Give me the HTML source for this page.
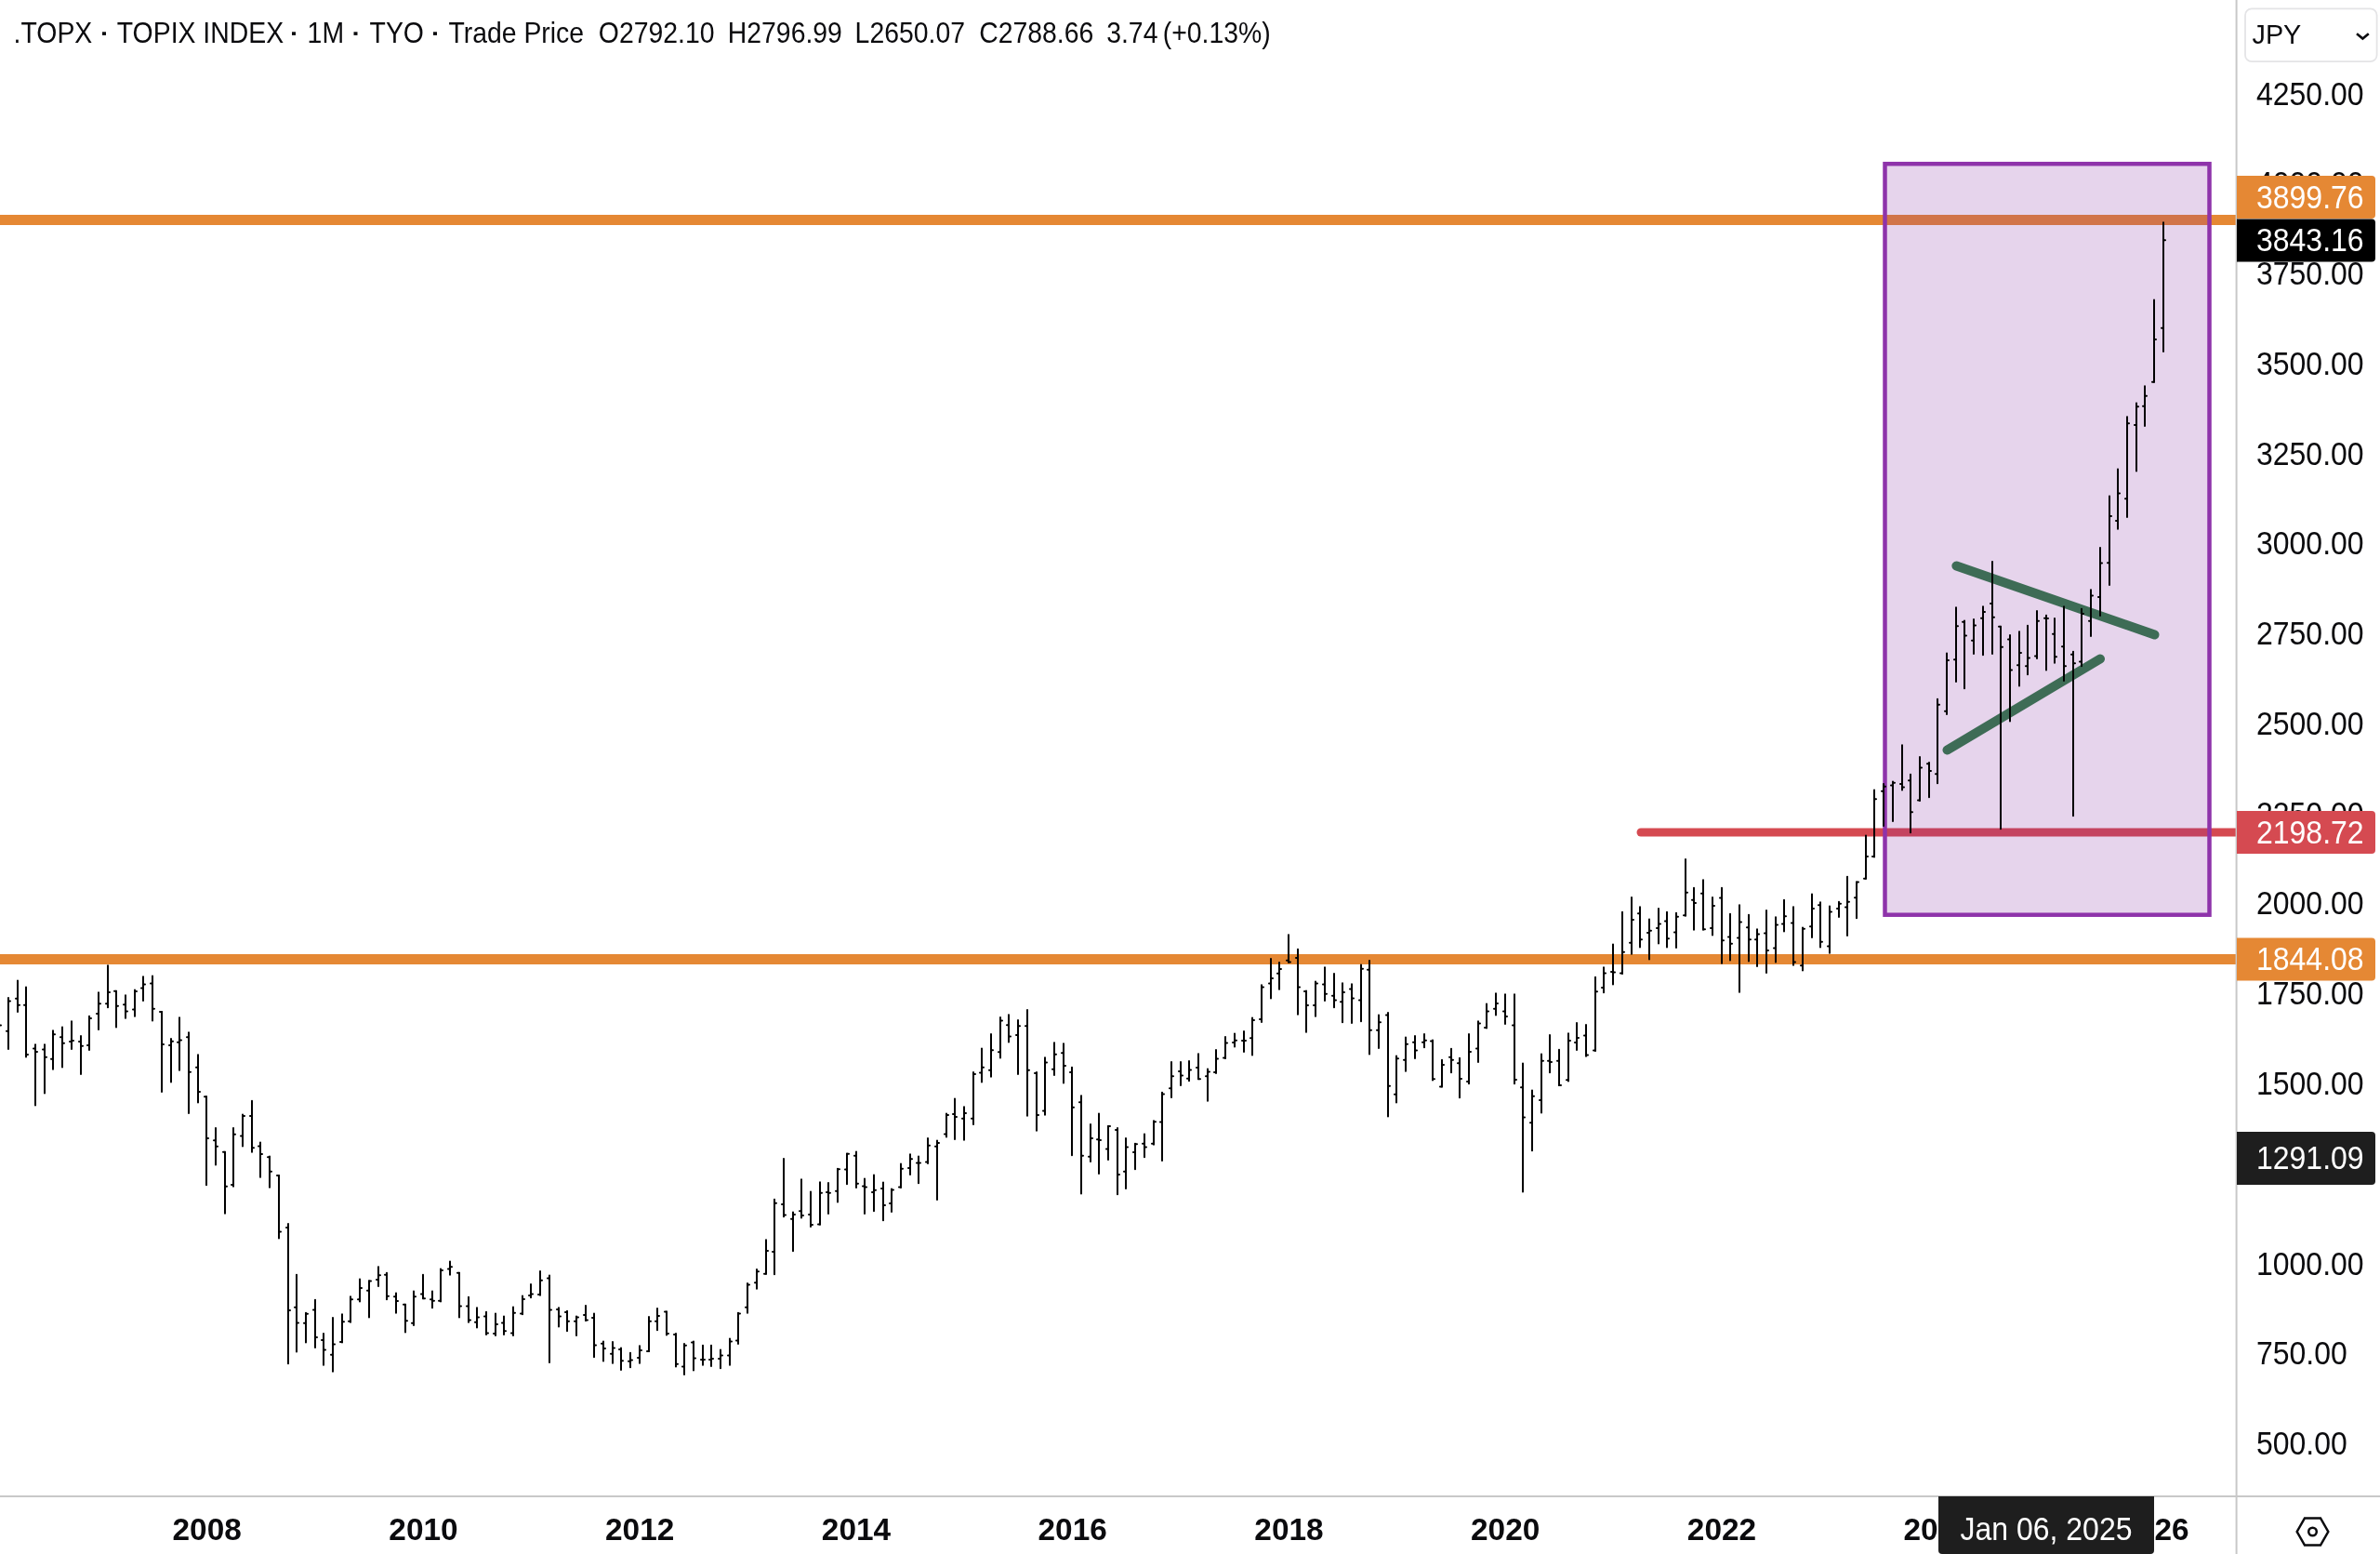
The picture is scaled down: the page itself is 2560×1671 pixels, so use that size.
<!DOCTYPE html>
<html><head><meta charset="utf-8"><style>
html,body{margin:0;padding:0;background:#fff;width:2560px;height:1671px;overflow:hidden}
svg{display:block;will-change:transform}
text{font-family:"Liberation Sans",sans-serif}
</style></head><body>
<svg width="2560" height="1671" viewBox="0 0 2560 1671">
<rect width="2560" height="1671" fill="#fff"/>
<g>
<rect x="0" y="231" width="2405" height="11" fill="#E58834"/>
<rect x="0" y="1026" width="2405" height="11" fill="#E58834"/>
<path d="M1765 895H2405" stroke="#D54A51" stroke-width="9" stroke-linecap="round"/>
<rect x="2405" y="890.5" width="2" height="9" fill="#D54A51"/>
<rect x="2027.5" y="176.2" width="349" height="807.5" fill="rgba(128,40,160,0.2)" stroke="#8E33AA" stroke-width="4.5"/>
<path d="M2104.4 608.5L2317.5 682.5M2094.5 806.5L2259 708.5" stroke="#3E6C56" stroke-width="10" stroke-linecap="round"/>
<path d="M9 1073.1V1128.1M19 1054.4V1088.0M28 1061.5V1136.4M38 1123.3V1188.5M48 1123.3V1175.4M57 1108.2V1149.7M67 1104.6V1147.4M77 1098.2V1128.1M87 1114.0V1155.1M96 1092.8V1129.1M106 1067.3V1106.9M116 1038.3V1083.3M125 1065.8V1104.6M135 1070.2V1094.7M145 1064.4V1092.8M154 1050.3V1076.0M164 1049.5V1097.6M174 1088.0V1173.9M184 1116.9V1163.4M193 1094.3V1150.7M203 1110.2V1197.0M213 1134.3V1185.6M222 1179.3V1274.2M232 1213.1V1252.6M242 1238.7V1304.7M251 1213.1V1275.8M261 1198.6V1232.4M271 1183.7V1238.7M280 1228.5V1265.8M290 1243.6V1276.8M300 1264.0V1331.5M310 1316.0V1466.3M319 1370.8V1453.6M329 1411.8V1443.6M339 1397.8V1448.9M348 1434.1V1467.8M358 1417.1V1474.8M368 1413.3V1443.6M377 1394.2V1421.8M387 1375.5V1399.5M397 1377.2V1416.5M407 1362.3V1382.9M416 1368.7V1397.3M426 1390.6V1411.8M436 1402.7V1432.4M445 1388.4V1424.9M455 1370.8V1396.3M465 1388.4V1406.3M474 1364.4V1399.5M484 1356.6V1370.8M494 1368.7V1416.5M504 1394.8V1421.8M513 1406.3V1427.5M523 1410.7V1435.1M533 1412.6V1436.0M542 1415.4V1434.9M552 1405.4V1436.0M562 1393.5V1413.3M571 1381.0V1395.2M581 1367.0V1392.7M591 1371.4V1464.9M601 1406.3V1426.6M610 1409.7V1431.3M620 1415.4V1436.0M630 1404.1V1420.1M639 1412.6V1459.3M649 1442.6V1463.6M659 1443.0V1465.7M668 1449.4V1473.1M678 1454.7V1470.2M688 1447.2V1465.7M698 1416.0V1453.0M707 1406.9V1430.3M717 1410.5V1435.6M727 1434.1V1469.5M736 1445.1V1478.0M746 1442.6V1473.4M756 1446.8V1467.8M765 1446.8V1469.1M775 1451.5V1471.2M785 1439.4V1467.8M794 1411.8V1445.1M804 1379.9V1411.8M814 1365.1V1385.7M824 1333.2V1369.7M833 1289.7V1370.2M843 1246.0V1308.2M853 1303.5V1345.3M862 1268.3V1309.4M872 1281.4V1319.0M882 1271.2V1316.7M891 1272.1V1304.9M901 1256.7V1292.6M911 1240.5V1273.3M921 1238.5V1276.9M930 1267.5V1304.9M940 1263.6V1302.2M950 1271.4V1312.3M959 1278.5V1303.0M969 1251.5V1276.9M979 1241.2V1263.1M988 1243.4V1272.3M998 1223.9V1250.9M1008 1226.4V1290.1M1018 1197.4V1222.5M1027 1181.6V1225.0M1037 1190.3V1225.8M1047 1153.0V1209.0M1056 1127.5V1163.6M1066 1111.9V1157.8M1076 1094.1V1137.6M1085 1091.2V1120.6M1095 1097.0V1154.9M1105 1086.0V1199.7M1115 1153.0V1215.8M1124 1137.2V1198.8M1134 1121.2V1155.9M1144 1122.2V1164.5M1153 1147.7V1242.3M1163 1178.2V1283.4M1173 1208.9V1249.0M1182 1197.5V1262.0M1192 1211.0V1247.1M1202 1212.9V1284.2M1211 1223.9V1278.0M1221 1229.7V1257.3M1231 1219.5V1244.2M1241 1205.2V1230.7M1250 1174.7V1248.1M1260 1141.9V1180.1M1270 1141.9V1167.0M1279 1140.9V1162.2M1289 1133.2V1160.2M1299 1149.6V1183.8M1308 1129.0V1153.9M1318 1114.9V1138.0M1328 1111.4V1125.5M1338 1109.1V1130.9M1347 1094.6V1134.6M1357 1059.3V1099.0M1367 1030.9V1073.4M1376 1035.1V1063.7M1386 1005.2V1034.7M1396 1020.8V1090.7M1405 1065.6V1109.7M1415 1055.4V1092.7M1425 1040.3V1076.0M1435 1047.0V1083.3M1444 1057.3V1099.2M1454 1058.2V1100.1M1464 1037.4V1098.2M1473 1033.1V1133.5M1483 1091.4V1127.1M1493 1088.9V1200.5M1502 1135.4V1185.4M1512 1115.6V1151.7M1522 1114.0V1138.1M1532 1112.1V1126.2M1541 1118.5V1161.5M1551 1139.7V1168.6M1561 1127.7V1153.2M1570 1137.8V1180.2M1580 1112.1V1165.2M1590 1098.2V1142.0M1599 1079.5V1105.5M1609 1068.3V1091.4M1619 1069.2V1101.1M1629 1069.2V1165.2M1638 1143.6V1281.6M1648 1172.5V1237.2M1658 1133.5V1196.6M1667 1113.1V1153.2M1677 1128.7V1167.1M1687 1111.3V1162.5M1696 1100.1V1129.1M1706 1102.0V1135.8M1716 1050.8V1130.0M1725 1040.2V1067.3M1735 1015.5V1058.6M1745 980.8V1047.0M1755 964.9V1025.8M1764 975.2V1018.4M1774 988.5V1031.5M1784 977.1V1014.6M1793 980.8V1018.4M1803 981.7V1019.0M1813 924.0V984.8M1822 954.7V999.7M1832 946.2V999.7M1842 964.9V1005.5M1852 954.7V1035.8M1861 982.7V1032.5M1871 973.2V1066.7M1881 983.7V1033.5M1890 999.3V1038.9M1900 979.0V1046.0M1910 986.2V1034.4M1919 967.8V1001.6M1929 975.2V1037.7M1939 997.4V1043.5M1949 961.5V1008.0M1958 970.3V1018.4M1968 974.6V1024.8M1978 969.7V985.9M1987 942.7V1006.0M1997 948.6V987.2M2007 898.4V944.7M2016 849.5V921.6M2026 843.1V888.1M2036 840.5V883.0M2046 801.2V849.5M2055 832.8V895.3M2065 814.0V861.1M2075 820.0V857.3M2084 751.8V842.3M2094 702.4V768.0M2104 653.3V733.0M2113 667.4V740.2M2123 666.1V702.9M2133 652.2V704.2M2143 603.9V702.9M2152 673.8V891.2M2162 683.1V775.5M2172 679.2V737.6M2181 672.8V725.3M2191 657.1V708.1M2201 661.7V720.4M2210 665.1V712.7M2220 652.2V732.0M2230 700.8V877.3M2239 654.8V716.3M2249 634.2V684.1M2259 589.0V661.9M2269 533.4V628.9M2278 504.6V568.8M2288 448.3V556.0M2298 433.4V506.6M2307 415.3V458.0M2317 322.6V410.8M2327 239.2V378.1" stroke="#000" stroke-width="2" stroke-linecap="round" fill="none"/>
<path d="M7 1108.8H9M9 1076.4H11M17 1073.7H19M19 1080.8H21M26 1080.8H28M28 1133.9H30M36 1127.5H38M38 1131.0H40M46 1128.5H48M48 1136.8H50M55 1138.7H57M57 1112.3H59M65 1115.2H67M67 1121.7H69M75 1120.0H77M77 1119.0H79M85 1120.0H87M87 1124.8H89M94 1123.9H96M96 1094.9H98M104 1090.1H106M106 1079.3H108M114 1079.3H116M116 1066.9H118M123 1065.8H125M125 1081.8H127M133 1080.2H135M135 1087.6H137M143 1085.6H145M145 1065.9H147M152 1062.5H154M154 1058.6H156M162 1057.6H164M164 1084.7H166M172 1088.0H174M174 1122.9H176M182 1123.9H184M184 1119.8H186M191 1120.8H193M193 1118.5H195M201 1115.2H203M203 1152.8H205M211 1147.8H213M213 1174.1H215M220 1179.3H222M222 1224.1H224M230 1226.2H232M232 1232.7H234M240 1238.7H242M242 1275.8H244M249 1273.9H251M251 1219.8H253M259 1221.4H261M261 1199.9H263M269 1199.9H271M271 1234.3H273M278 1232.4H280M280 1241.0H282M288 1244.3H290M290 1259.8H292M298 1264.0H300M300 1324.5H302M308 1319.9H310M310 1409.0H312M317 1405.8H319M319 1422.4H321M327 1422.8H329M329 1412.8H331M337 1408.4H339M339 1438.1H341M346 1440.9H348M348 1451.5H350M356 1456.8H358M358 1445.5H360M366 1443.0H368M368 1421.3H370M375 1420.7H377M377 1397.3H379M385 1397.3H387M387 1385.0H389M395 1387.8H397M397 1377.6H399M405 1376.1H407M407 1371.2H409M414 1370.8H416M416 1393.7H418M424 1394.2H426M426 1399.0H428M434 1402.7H436M436 1420.3H438M443 1422.8H445M445 1394.2H447M453 1391.4H455M455 1396.3H457M463 1397.3H465M465 1398.8H467M472 1398.8H474M474 1365.9H476M482 1364.4H484M484 1362.3H486M492 1368.7H494M494 1404.4H496M502 1404.4H504M504 1419.6H506M511 1421.8H513M513 1416.5H515M521 1415.4H523M523 1433.4H525M531 1433.9H533M533 1423.9H535M540 1422.4H542M542 1431.3H544M550 1433.4H552M552 1411.8H554M560 1412.6H562M562 1396.9H564M569 1393.1H571M571 1391.4H573M579 1392.0H581M581 1376.8H583M589 1374.6H591M591 1408.4H593M599 1408.0H601M601 1415.4H603M608 1411.1H610M610 1420.7H612M618 1420.7H620M620 1416.5H622M628 1413.9H630M630 1419.6H632M637 1416.9H639M639 1446.6H641M647 1444.7H649M649 1450.0H651M657 1455.7H659M659 1449.4H661M666 1451.1H668M668 1463.2H670M676 1463.8H678M678 1462.5H680M686 1460.0H688M688 1452.1H690M696 1453.0H698M698 1420.7H700M705 1420.7H707M707 1415.0H709M715 1410.5H717M717 1433.9H719M725 1435.1H727M727 1466.8H729M734 1469.5H736M736 1446.8H738M744 1443.6H746M746 1460.6H748M754 1462.1H756M756 1462.1H758M763 1462.1H765M765 1461.0H767M773 1461.0H775M775 1457.4H777M783 1457.4H785M785 1442.4H787M792 1441.5H794M794 1412.6H796M802 1405.8H804M804 1381.4H806M812 1379.3H814M814 1367.2H816M822 1369.7H824M824 1344.9H826M831 1346.0H833M833 1293.7H835M841 1295.0H843M843 1306.5H845M851 1310.7H853M853 1306.1H855M860 1302.2H862M862 1306.9H864M870 1305.9H872M872 1317.1H874M880 1316.5H882M882 1282.7H884M889 1282.0H891M891 1282.7H893M899 1280.8H901M901 1257.3H903M909 1257.6H911M911 1240.8H913M919 1242.8H921M921 1272.7H923M928 1275.6H930M930 1276.6H932M938 1282.0H940M940 1279.8H942M948 1277.9H950M950 1295.9H952M957 1293.9H959M959 1279.5H961M967 1276.6H969M969 1256.7H971M977 1255.9H979M979 1246.3H981M986 1250.5H988M988 1250.5H990M996 1249.5H998M998 1231.8H1000M1006 1232.7H1008M1008 1228.9H1010M1016 1219.6H1018M1018 1199.0H1020M1025 1198.0H1027M1027 1200.9H1029M1035 1202.8H1037M1037 1197.0H1039M1045 1202.8H1047M1047 1154.9H1049M1054 1153.6H1056M1056 1147.8H1058M1064 1150.7H1066M1066 1129.3H1068M1074 1131.2H1076M1076 1097.6H1078M1083 1102.2H1085M1085 1114.4H1087M1093 1112.9H1095M1095 1103.2H1097M1103 1103.2H1105M1105 1150.7H1107M1113 1154.0H1115M1115 1199.0H1117M1122 1194.5H1124M1124 1142.4H1126M1132 1149.7H1134M1134 1133.7H1136M1142 1132.2H1144M1144 1146.1H1146M1151 1152.9H1153M1153 1190.7H1155M1161 1185.3H1163M1163 1242.7H1165M1171 1243.8H1173M1173 1223.9H1175M1180 1225.3H1182M1182 1225.9H1184M1190 1235.5H1192M1192 1211.0H1194M1200 1214.9H1202M1202 1263.1H1204M1209 1259.7H1211M1211 1233.6H1213M1219 1239.0H1221M1221 1230.3H1223M1229 1229.7H1231M1231 1233.6H1233M1239 1229.7H1241M1241 1206.2H1243M1248 1206.6H1250M1250 1176.6H1252M1258 1170.3H1260M1260 1157.3H1262M1268 1151.9H1270M1270 1156.4H1272M1277 1159.8H1279M1279 1150.6H1281M1287 1148.1H1289M1289 1160.2H1291M1297 1157.3H1299M1299 1152.5H1301M1306 1152.9H1308M1308 1138.6H1310M1316 1137.6H1318M1318 1121.6H1320M1326 1121.0H1328M1328 1118.7H1330M1336 1119.1H1338M1338 1119.1H1340M1345 1116.2H1347M1347 1096.9H1349M1355 1095.9H1357M1357 1061.4H1359M1365 1057.5H1367M1367 1052.1H1369M1374 1046.7H1376M1376 1041.9H1378M1384 1032.8H1386M1386 1034.4H1388M1394 1029.9H1396M1396 1061.4H1398M1403 1066.0H1405M1405 1081.1H1407M1413 1081.1H1415M1415 1057.5H1417M1423 1058.6H1425M1425 1068.8H1427M1433 1070.8H1435M1435 1075.4H1437M1442 1077.3H1444M1444 1066.9H1446M1452 1063.4H1454M1454 1073.5H1456M1462 1075.4H1464M1464 1041.8H1466M1471 1042.8H1473M1473 1107.8H1475M1481 1107.8H1483M1483 1099.2H1485M1491 1091.4H1493M1493 1167.7H1495M1500 1176.8H1502M1502 1138.3H1504M1510 1139.7H1512M1512 1122.7H1514M1520 1120.8H1522M1522 1129.5H1524M1530 1120.8H1532M1532 1118.8H1534M1539 1119.4H1541M1541 1160.3H1543M1549 1168.6H1551M1551 1145.1H1553M1559 1136.8H1561M1561 1139.7H1563M1568 1143.2H1570M1570 1160.0H1572M1578 1162.9H1580M1580 1131.0H1582M1588 1127.5H1590M1590 1100.5H1592M1597 1104.9H1599M1599 1087.6H1601M1607 1084.7H1609M1609 1078.9H1611M1617 1087.6H1619M1619 1093.0H1621M1627 1102.4H1629M1629 1160.9H1631M1636 1169.2H1638M1638 1201.5H1640M1646 1207.3H1648M1648 1178.7H1650M1656 1183.1H1658M1658 1140.7H1660M1665 1140.7H1667M1667 1142.0H1669M1675 1140.7H1677M1677 1167.1H1679M1685 1161.3H1687M1687 1119.0H1689M1694 1121.0H1696M1696 1116.1H1698M1704 1113.6H1706M1706 1134.4H1708M1714 1129.6H1716M1716 1066.3H1718M1723 1062.0H1725M1725 1046.4H1727M1733 1045.1H1735M1735 1045.6H1737M1743 1046.6H1745M1745 1023.8H1747M1753 1013.8H1755M1755 989.1H1757M1762 982.3H1764M1764 1010.3H1766M1772 1003.0H1774M1774 1000.7H1776M1782 998.1H1784M1784 993.5H1786M1791 990.6H1793M1793 1009.3H1795M1801 1002.6H1803M1803 985.8H1805M1811 984.2H1813M1813 959.7H1815M1820 967.8H1822M1822 971.1H1824M1830 960.7H1832M1832 999.3H1834M1840 998.1H1842M1842 974.0H1844M1850 965.5H1852M1852 1011.3H1854M1859 1007.4H1861M1861 1014.7H1863M1869 1008.4H1871M1871 991.6H1873M1879 997.2H1881M1881 1010.3H1883M1888 1010.3H1890M1890 1004.5H1892M1898 1003.6H1900M1900 1021.9H1902M1908 1019.4H1910M1910 994.5H1912M1917 993.5H1919M1919 985.2H1921M1927 992.5H1929M1929 1034.4H1931M1937 1038.3H1939M1939 998.7H1941M1947 996.2H1949M1949 976.9H1951M1956 973.2H1958M1958 1012.8H1960M1966 1017.6H1968M1968 980.4H1970M1976 976.9H1978M1978 971.8H1980M1985 975.6H1987M1987 969.7H1989M1995 965.3H1997M1997 948.6H1999M2005 944.7H2007M2007 921.1H2009M2014 921.1H2016M2016 859.3H2018M2024 850.8H2026M2026 845.7H2028M2034 844.4H2036M2036 841.8H2038M2044 843.1H2046M2046 846.5H2048M2053 839.3H2055M2055 873.2H2057M2063 860.6H2065M2065 825.6H2067M2073 821.3H2075M2075 829.0H2077M2082 832.3H2084M2084 757.7H2086M2092 764.7H2094M2094 709.9H2096M2102 709.3H2104M2104 673.3H2106M2111 668.7H2113M2113 683.6H2115M2121 688.8H2123M2123 672.5H2125M2131 664.8H2133M2133 657.9H2135M2141 648.9H2143M2143 663.8H2145M2150 673.8H2152M2152 695.7H2154M2160 687.5H2162M2162 720.4H2164M2170 715.3H2172M2172 702.1H2174M2179 716.3H2181M2181 707.5H2183M2189 705.5H2191M2191 667.7H2193M2199 664.8H2201M2201 665.1H2203M2208 681.8H2210M2210 706.3H2212M2218 695.2H2220M2220 716.3H2222M2228 703.7H2230M2230 713.2H2232M2237 711.4H2239M2239 659.9H2241M2247 667.7H2249M2249 640.6H2251M2257 642.1H2259M2259 605.6H2261M2267 605.3H2269M2269 554.9H2271M2276 560.1H2278M2278 530.6H2280M2286 536.2H2288M2288 455.2H2290M2296 457.0H2298M2298 437.2H2300M2305 436.8H2307M2307 425.7H2309M2315 410.8H2317M2317 364.9H2319M2325 352.8H2327M2327 258.3H2329M-1 1102.6H1" stroke="#000" stroke-width="2" stroke-linecap="round" fill="none"/>
</g>
<rect x="2405" y="0" width="155" height="1671" fill="#fff"/>
<rect x="0" y="1609" width="2560" height="62" fill="#fff"/>
<rect x="2404.6" y="0" width="2" height="1671" fill="#c8c8c8"/>
<rect x="0" y="1608" width="2560" height="2" fill="#c8c8c8"/>
<g font-size="28.4" fill="#0b0b0e"><text transform="translate(14.6 45.6) scale(1 1.09)">.TOPX</text><text transform="translate(125.8 45.6) scale(1 1.09)">TOPIX INDEX</text><text transform="translate(330.6 45.6) scale(1 1.09)">1M</text><text transform="translate(397.6 45.6) scale(1 1.09)">TYO</text><text transform="translate(482.4 45.6) scale(1 1.09)">Trade Price</text><text transform="translate(643.8 45.6) scale(1 1.09)">O2792.10</text><text transform="translate(782.8 45.6) scale(1 1.09)">H2796.99</text><text transform="translate(919.6 45.6) scale(1 1.09)">L2650.07</text><text transform="translate(1053.2 45.6) scale(1 1.09)">C2788.66</text><text transform="translate(1190.2 45.6) scale(1 1.09)">3.74</text><text transform="translate(1250.8 45.6) scale(1 1.09)">(+0.13%)</text><rect x="110.0" y="34.3" width="4" height="3.6"/><rect x="314.0" y="34.3" width="4" height="3.6"/><rect x="380.5" y="34.3" width="4" height="3.6"/><rect x="466.0" y="34.3" width="4" height="3.6"/></g>
<g font-size="32" fill="#0b0b0e"><text transform="translate(2427 100.8) scale(1 1.07)" y="11">4250.00</text><text transform="translate(2427 197.6) scale(1 1.07)" y="11">4000.00</text><text transform="translate(2427 294.3) scale(1 1.07)" y="11">3750.00</text><text transform="translate(2427 391.1) scale(1 1.07)" y="11">3500.00</text><text transform="translate(2427 487.9) scale(1 1.07)" y="11">3250.00</text><text transform="translate(2427 584.6) scale(1 1.07)" y="11">3000.00</text><text transform="translate(2427 681.4) scale(1 1.07)" y="11">2750.00</text><text transform="translate(2427 778.2) scale(1 1.07)" y="11">2500.00</text><text transform="translate(2427 874.9) scale(1 1.07)" y="11">2250.00</text><text transform="translate(2427 971.7) scale(1 1.07)" y="11">2000.00</text><text transform="translate(2427 1068.5) scale(1 1.07)" y="11">1750.00</text><text transform="translate(2427 1165.2) scale(1 1.07)" y="11">1500.00</text><text transform="translate(2427 1262.0) scale(1 1.07)" y="11">1250.00</text><text transform="translate(2427 1358.8) scale(1 1.07)" y="11">1000.00</text><text transform="translate(2427 1455.5) scale(1 1.07)" y="11">750.00</text><text transform="translate(2427 1552.3) scale(1 1.07)" y="11">500.00</text></g>
<g font-size="33.4" font-weight="bold" fill="#0b0b0e" text-anchor="middle"><text x="222.7" y="1656">2008</text><text x="455.5" y="1656">2010</text><text x="688.2" y="1656">2012</text><text x="921.0" y="1656">2014</text><text x="1153.7" y="1656">2016</text><text x="1386.5" y="1656">2018</text><text x="1619.2" y="1656">2020</text><text x="1852.0" y="1656">2022</text><text x="2084.7" y="1656">2024</text><text x="2317.5" y="1656">2026</text></g>
<g font-size="32">
<path d="M2406 189H2551Q2555 189 2555 193V231Q2555 235 2551 235H2406Z" fill="#E58834"/><text transform="translate(2427 212.0) scale(1 1.07)" y="11" fill="#fff">3899.76</text>
<path d="M2406 235.5H2551Q2555 235.5 2555 239.5V277.5Q2555 281.5 2551 281.5H2406Z" fill="#000"/><text transform="translate(2427 258.5) scale(1 1.07)" y="11" fill="#fff">3843.16</text>
<path d="M2406 872H2551Q2555 872 2555 876V914Q2555 918 2551 918H2406Z" fill="#D54A51"/><text transform="translate(2427 895.0) scale(1 1.07)" y="11" fill="#fff">2198.72</text>
<path d="M2406 1008.5H2551Q2555 1008.5 2555 1012.5V1050.5Q2555 1054.5 2551 1054.5H2406Z" fill="#E58834"/><text transform="translate(2427 1031.5) scale(1 1.07)" y="11" fill="#fff">1844.08</text>
<path d="M2406 1217H2551Q2555 1217 2555 1221V1270Q2555 1274 2551 1274H2406Z" fill="#1e1e1e"/><text transform="translate(2427 1245.5) scale(1 1.07)" y="11" fill="#fff">1291.09</text>
</g>
<rect x="2415" y="9.4" width="141.6" height="56.8" rx="7" fill="#fff" stroke="#e4e4e6" stroke-width="1.8"/>
<text transform="translate(2422.5 47.4) scale(1 1.05)" font-size="28.8" fill="#0b0b0e">JPY</text>
<path d="M2535 36.3L2541.4 41.5L2547.8 36.3" stroke="#0b0b0e" stroke-width="2.6" fill="none"/>
<path d="M2085 1609H2317V1667Q2317 1671 2313 1671H2089Q2085 1671 2085 1667Z" fill="#1e1e1e"/>
<text transform="translate(2201 1655.6) scale(1 1.07)" font-size="32" fill="#fff" text-anchor="middle">Jan 06, 2025</text>
<g stroke="#0b0b0e" stroke-width="2.5" fill="none">
<path d="M2479 1632.5H2496L2504.3 1647L2496 1661.5H2479L2470.7 1647Z"/>
<circle cx="2487.5" cy="1647" r="4.3"/>
</g>
</svg>
</body></html>
